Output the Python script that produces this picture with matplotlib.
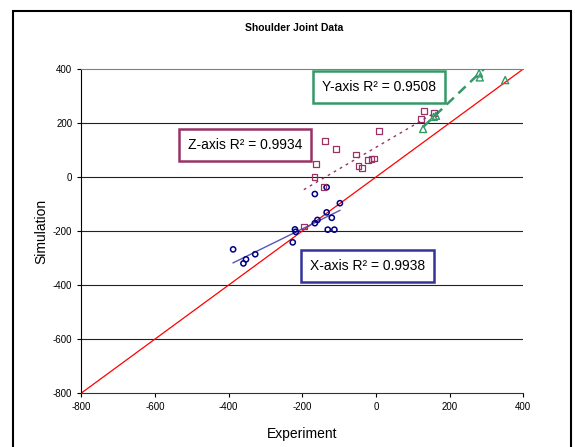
import matplotlib
matplotlib.use("Agg")
import matplotlib.pyplot as plt
from matplotlib.patches import Rectangle

plt.rcParams['font.family'] = ['Liberation Sans', 'DejaVu Sans']
plt.rcParams['axes.unicode_minus'] = False

# X-axis series (blue circles)
x_exp = [-388, -360, -353, -328, -226, -220, -218, -166, -166, -159, -134, -120, -131, -113, -98, -134]
x_sim = [-268, -320, -305, -286, -242, -194, -203, -63, -171, -159, -131, -151, -195, -195, -97, -38]

# Z-axis series (plum squares)
z_exp = [130, 157, 123, 8, -138, -109, -55, -163, -48, -38, -21, -12, -6, -167, -143, -196]
z_sim = [244, 238, 214, 170, 133, 103, 83, 48, 40, 34, 63, 67, 69, 1, -38, -184]

# Y-axis series (green triangles)
y_exp = [128, 157, 163, 280, 282, 351]
y_sim = [178, 223, 227, 384, 369, 359]

# trendlines: slope, intercept
trend_x = [0.67, -58]
trend_z = [0.80, 110]
trend_y = [1.30, 19]

labels = ['X-axis R\u00b2 = 0.9938', 'Z-axis R\u00b2 = 0.9934', 'Y-axis R\u00b2 = 0.9508']

ticks = [-800, -600, -400, -200, 0, 200, 400]

fig = plt.figure(figsize=(5.75, 4.47), dpi=100)
ax = fig.add_axes([0.1416, 0.1208, 0.7684, 0.7248])

# outer chart border
fig.patches.append(Rectangle((13 / 575, -0.05), (571 - 13) / 575, 1 - 11 / 447 + 0.05,
                             transform=fig.transFigure, fill=False, edgecolor='black', lw=1.5))

for t in ticks[1:-1]:
    ax.axhline(t, color='#222222', lw=0.8, zorder=1)

ax.plot([-800, 400], [-800, 400], color='red', lw=0.9, zorder=2)


def trend(xs, coef, **kw):
    x0, x1 = min(xs), max(xs)
    ax.plot([x0, x1], [coef[0] * x0 + coef[1], coef[0] * x1 + coef[1]], zorder=3, **kw)


trend(x_exp, trend_x, color='#5555bb', lw=1.0)
trend(z_exp, trend_z, color='#993366', lw=1.0, linestyle=(0, (2, 3)))
trend(y_exp, trend_y, color='#339966', lw=1.8, linestyle=(0, (4, 2.5)))

ax.scatter(x_exp, x_sim, s=14, facecolors='none', edgecolors='#000080', linewidths=1.1, zorder=4)
ax.scatter(z_exp, z_sim, s=16, marker='s', facecolors='none', edgecolors='#993366', linewidths=0.9, zorder=4)
ax.scatter(y_exp, y_sim, s=26, marker='^', facecolors='none', edgecolors='#339966', linewidths=1.0, zorder=4)

box_kw = dict(fontsize=10, ha='center', va='center', zorder=5)
ax.text(-24, -328, labels[0], bbox=dict(boxstyle='square,pad=0.65', fc='white', ec='#333399', lw=1.8), **box_kw)
ax.text(-356, 120, labels[1], bbox=dict(boxstyle='square,pad=0.65', fc='white', ec='#993366', lw=1.8), **box_kw)
ax.text(7, 335, labels[2], bbox=dict(boxstyle='square,pad=0.65', fc='white', ec='#339966', lw=1.8), **box_kw)

ax.set_xlim(-800, 400)
ax.set_ylim(-800, 400)
ax.set_xticks(ticks)
ax.set_yticks(ticks)
ax.tick_params(labelsize=7, length=3, width=0.8)
ax.spines['right'].set_visible(False)
ax.spines['top'].set_color('#808080')
ax.spines['bottom'].set_color('#333333')
ax.spines['left'].set_color('black')

ax.set_xlabel('Experiment', fontsize=10, labelpad=11)
ax.set_ylabel('Simulation', fontsize=10, labelpad=3)
fig.text(294 / 575, 1 - 28 / 447, 'Shoulder Joint Data', fontsize=7.5, fontweight='bold',
         ha='center', va='center')

fig.savefig('out.png', dpi=100)
